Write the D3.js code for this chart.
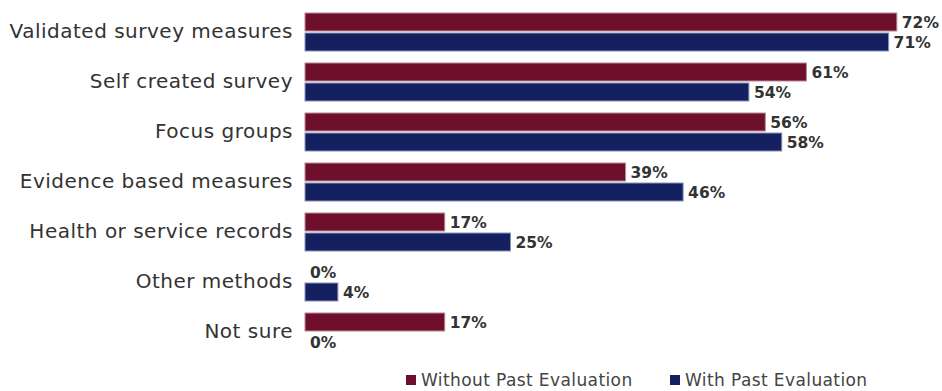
<!DOCTYPE html>
<html><head><meta charset="utf-8">
<script src="https://cdn.jsdelivr.net/npm/d3@7"></script>
<style>body{margin:0;background:#fff;} svg{display:block;}</style>
</head><body>
<svg id="c" width="942" height="391"></svg>
<script>
const categories = ["Validated survey measures","Self created survey","Focus groups","Evidence based measures","Health or service records","Other methods","Not sure"];
const seriesNames = ["Without Past Evaluation","With Past Evaluation"];
const withoutPast = [72,61,56,39,17,0,17];
const withPast = [71,54,58,46,25,4,0];
const colors = ["#6e0f2b","#14205f"];

const svg = d3.select("#c");
const font = "'DejaVu Sans', sans-serif";
const x = d3.scaleLinear().domain([0,100]).range([305,305+822]);
const y0 = d3.scaleBand().domain(categories).range([7,357]).paddingInner(0.24).paddingOuter(0.12);
const y1 = d3.scaleBand().domain(seriesNames).range([0,y0.bandwidth()]).paddingInner(0.1);
const data = categories.map((c,i)=>({cat:c, vals:[withoutPast[i],withPast[i]]}));

const g = svg.append("g");
const rows = g.selectAll("g.row").data(data).join("g").attr("transform",d=>`translate(0,${y0(d.cat)})`);
rows.selectAll("rect").data(d=>d.vals.map((v,j)=>({v,s:seriesNames[j],j}))).join("rect")
  .attr("x",x(0)).attr("y",d=>y1(d.s)).attr("height",y1.bandwidth())
  .attr("width",d=>x(d.v)-x(0)).attr("fill",d=>colors[d.j])
  .attr("stroke",d=>d.v>0?(d.j===0?"#b88a98":"#8a91b5"):"none").attr("stroke-width",1);
rows.selectAll("text.val").data(d=>d.vals.map((v,j)=>({v,s:seriesNames[j],j}))).join("text")
  .attr("class","val").attr("x",d=>x(d.v)+5).attr("y",d=>y1(d.s)+y1.bandwidth()/2)
  .attr("dy","0.36em").attr("font-family",font).attr("font-weight","bold").attr("font-size",15.5)
  .attr("fill","#333").text(d=>d.v+"%");

const yAxis = d3.axisLeft(y0).tickSize(0).tickPadding(12);
const ax = svg.append("g").attr("transform",`translate(${x(0)},0)`).call(yAxis);
ax.select(".domain").remove();
ax.selectAll("text").attr("font-family",font).attr("font-size",20).attr("letter-spacing","0.5px").attr("fill","#333");

const leg = svg.append("g");
const legX = [406,670];
seriesNames.forEach((s,i)=>{
  leg.append("rect").attr("x",legX[i]).attr("y",375).attr("width",10).attr("height",10).attr("fill",colors[i]);
  leg.append("text").attr("x",legX[i]+15).attr("y",380).attr("dy","0.36em").attr("font-family",font)
    .attr("font-size",17).attr("letter-spacing","0.4px").attr("fill","#444").text(s);
});
</script>
</body></html>
